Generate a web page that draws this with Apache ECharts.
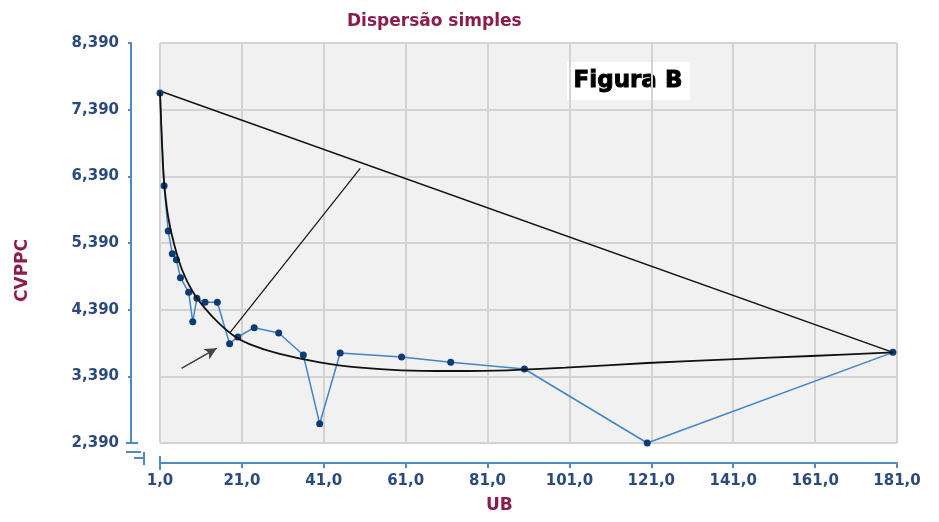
<!DOCTYPE html>
<html>
<head>
<meta charset="utf-8">
<script src="https://cdn.jsdelivr.net/npm/echarts@6/dist/echarts.min.js"></script>
<style>
html,body{margin:0;padding:0;background:#fff;}
#chart{width:939px;height:522px;}
</style>
</head>
<body>
<div id="chart"></div>
<script>
// ---- data ----
const ubValues    = [1, 2, 3, 4, 5, 6, 8, 9, 10, 12, 15, 18, 20, 24, 30, 36, 40, 45, 60, 72, 90, 120, 180];
const cvppcValues = [7.64, 6.25, 5.57, 5.23, 5.14, 4.87, 4.65, 4.21, 4.56, 4.50, 4.50, 3.88, 3.98, 4.12, 4.04, 3.71, 2.68, 3.74, 3.68, 3.60, 3.50, 2.39, 3.75];

// fitted curve
const curveUB    = [1, 1.5, 2, 3, 4.5, 6.5, 9, 12, 15.5, 19, 23, 30, 40, 50, 60, 72, 86, 100, 120, 140, 160, 180];
const curveCVPPC = [7.66, 6.85, 6.30, 5.78, 5.36, 4.97, 4.66, 4.41, 4.18, 4.00, 3.87, 3.73, 3.60, 3.52, 3.48, 3.47, 3.48, 3.52, 3.59, 3.645, 3.695, 3.75];

// straight annotation lines
const hullUB = [1, 180];
const hullCVPPC = [7.67, 3.75];
const pointerUB = [18.1, 49.9];
const pointerCVPPC = [4.045, 6.51];
const arrowUB = [6.3, 14.85];
const arrowCVPPC = [3.51, 3.81];

// axes
const xMin = 1, xMax = 181, xStep = 20;
const yMin = 2.39, yMax = 8.39, yStep = 1;

const title = 'Dispersão simples';
const xName = 'UB';
const yName = 'CVPPC';
const figLabel = 'Figura B';

const zip = (a, b) => a.map((v, i) => [v, b[i]]);

const maroon = '#8a1c4e';
const labelBlue = '#2c4a7c';
const axisBlue = '#4f8ac6';

const chart = echarts.init(document.getElementById('chart'), null, {renderer: 'canvas'});
chart.setOption({
  backgroundColor: '#ffffff',
  animation: false,
  title: {
    text: title, left: 342, top: 8,
    textStyle: {color: maroon, fontFamily: 'DejaVu Sans', fontWeight: 'bold', fontSize: 17}
  },
  grid: {
    left: 160, right: 42, top: 43, bottom: 79,
    show: true, backgroundColor: '#f1f1f1', borderColor: '#d2d2d2', borderWidth: 1
  },
  xAxis: {
    type: 'value', min: xMin, max: xMax, interval: xStep, offset: 20,
    axisLine: {show: true, lineStyle: {color: axisBlue, width: 2}},
    axisTick: {show: true, length: 5, lineStyle: {color: axisBlue, width: 2}},
    axisLabel: {
      color: labelBlue, fontFamily: 'DejaVu Sans', fontWeight: 'bold', fontSize: 15, margin: 11,
      formatter: v => v.toFixed(1).replace('.', ',')
    },
    splitLine: {show: true, lineStyle: {color: '#d3d3d3', width: 2}}
  },
  yAxis: {
    type: 'value', min: yMin, max: yMax, interval: yStep, offset: 29,
    axisLine: {show: true, lineStyle: {color: axisBlue, width: 2}},
    axisTick: {show: true, length: 3, lineStyle: {color: axisBlue, width: 2}},
    axisLabel: {
      color: labelBlue, fontFamily: 'DejaVu Sans', fontWeight: 'bold', fontSize: 15, margin: 12,
      formatter: v => (Math.round(v * 1000) / 1000).toFixed(3).replace('.', ',')
    },
    splitLine: {show: true, lineStyle: {color: '#d3d3d3', width: 2}}
  },
  graphic: [
    {type: 'text', left: 486, top: 497, style: {text: xName, fill: maroon, font: 'bold 17px "DejaVu Sans"'}},
    {type: 'text', x: 14, y: 302, rotation: Math.PI / 2,
     style: {text: yName, fill: maroon, font: 'bold 17px "DejaVu Sans"'}},
    // broken-axis marks
    {type: 'line', shape: {x1: 126, y1: 443, x2: 138, y2: 443}, style: {stroke: axisBlue, lineWidth: 2}},
    {type: 'line', shape: {x1: 126, y1: 452, x2: 141, y2: 452}, style: {stroke: axisBlue, lineWidth: 2}},
    {type: 'line', shape: {x1: 134, y1: 458, x2: 144, y2: 458}, style: {stroke: axisBlue, lineWidth: 2}},
    {type: 'line', shape: {x1: 144, y1: 452, x2: 144, y2: 465}, style: {stroke: axisBlue, lineWidth: 2}},
    {type: 'line', shape: {x1: 160, y1: 456, x2: 160, y2: 470}, style: {stroke: axisBlue, lineWidth: 2}},
    // figure label box
    {type: 'group', left: 567, top: 62, children: [
      {type: 'rect', shape: {x: 0, y: 0, width: 123, height: 38}, style: {fill: '#ffffff'}},
      {type: 'text', x: 61, y: 19, style: {text: figLabel, fill: '#000', stroke: '#000', lineWidth: 0.9,
        font: 'bold 23px "DejaVu Sans"', textAlign: 'center', textVerticalAlign: 'middle'}}
    ]}
  ],
  series: [
    {
      name: 'hull', type: 'line', data: zip(hullUB, hullCVPPC), symbol: 'none',
      lineStyle: {color: '#111', width: 1.5}, z: 3
    },
    {
      name: 'pointer', type: 'line', data: zip(pointerUB, pointerCVPPC), symbol: 'none',
      lineStyle: {color: '#111', width: 1.2}, z: 3
    },
    {
      name: 'arrow', type: 'line', data: zip(arrowUB, arrowCVPPC), symbol: 'none',
      lineStyle: {color: '#444', width: 1.2}, z: 3,
      markLine: {
        silent: true, symbol: ['none', 'arrow'], symbolSize: [9, 12],
        lineStyle: {color: '#444', width: 1.2, type: 'solid'}, label: {show: false},
        data: [[{coord: [arrowUB[0], arrowCVPPC[0]]}, {coord: [arrowUB[1], arrowCVPPC[1]]}]]
      }
    },
    {
      name: 'CVPPC', type: 'line', data: zip(ubValues, cvppcValues),
      symbol: 'circle', symbolSize: 7,
      itemStyle: {color: '#0d3b78'},
      lineStyle: {color: '#4285c6', width: 1.5}, z: 4
    },
    {
      name: 'ajuste', type: 'line', data: zip(curveUB, curveCVPPC), symbol: 'none',
      smooth: 0.35,
      lineStyle: {color: '#111', width: 1.8}, z: 5
    }
  ]
});
</script>
</body>
</html>
